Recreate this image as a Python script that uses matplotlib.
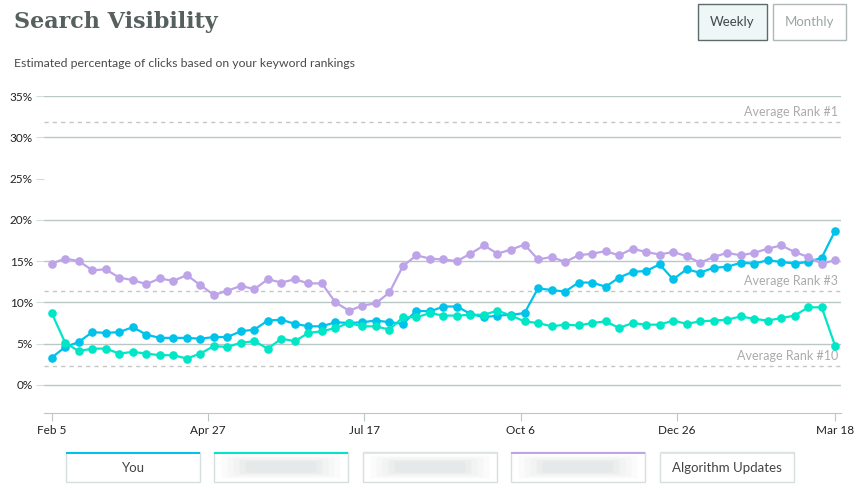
import datetime as dt
import matplotlib
matplotlib.use("Agg")
import matplotlib.pyplot as plt
import matplotlib.dates as mdates
import matplotlib.patches as patches

# ── Data ──────────────────────────────────────────────────────────────────────
start = dt.date(2017, 2, 5)
dates = [start + dt.timedelta(weeks=i) for i in range(59)]

you = [3.3, 4.6, 5.2, 6.4, 6.3, 6.4, 7.0, 6.1, 5.7, 5.7,
       5.7, 5.6, 5.8, 5.8, 6.5, 6.7, 7.8, 7.9, 7.4, 7.1,
       7.1, 7.6, 7.5, 7.6, 7.8, 7.6, 7.4, 9.0, 8.9, 9.5,
       9.5, 8.6, 8.2, 8.4, 8.5, 8.7, 11.7, 11.5, 11.3, 12.4,
       12.4, 11.9, 13.0, 13.7, 13.8, 14.6, 12.8, 14.0, 13.6, 14.2,
       14.3, 14.8, 14.7, 15.1, 14.9, 14.7, 14.9, 15.4, 18.7]

competitor_a = [8.7, 5.1, 4.1, 4.4, 4.4, 3.8, 4.0, 3.8, 3.6, 3.6,
                3.2, 3.8, 4.7, 4.6, 5.1, 5.3, 4.4, 5.6, 5.3, 6.3,
                6.5, 6.9, 7.5, 7.1, 7.1, 6.7, 8.2, 8.2, 8.7, 8.4,
                8.4, 8.5, 8.5, 9.0, 8.4, 7.7, 7.5, 7.1, 7.3, 7.2,
                7.5, 7.7, 6.9, 7.5, 7.3, 7.3, 7.8, 7.4, 7.7, 7.8,
                7.9, 8.3, 8.0, 7.8, 8.1, 8.4, 9.4, 9.4, 4.7]

competitor_c = [14.7, 15.3, 15.0, 13.9, 14.0, 13.0, 12.7, 12.2, 12.9, 12.6,
                13.3, 12.1, 10.9, 11.4, 12.0, 11.6, 12.8, 12.4, 12.8, 12.3,
                12.3, 10.0, 9.0, 9.6, 9.9, 11.2, 14.4, 15.7, 15.3, 15.2,
                15.0, 15.9, 16.9, 15.9, 16.4, 17.0, 15.2, 15.5, 14.9, 15.7,
                15.9, 16.2, 15.7, 16.5, 16.1, 15.8, 16.1, 15.6, 14.8, 15.5,
                16.0, 15.7, 16.0, 16.5, 16.9, 16.1, 15.5, 14.7, 15.1]

rank_values = [31.9, 11.4, 2.35]
rank_labels = ["Average Rank #1", "Average Rank #3", "Average Rank #10"]

y_ticks = [0, 5, 10, 15, 20, 25, 30, 35]
grid_values = [0, 5, 10, 15, 20, 30, 35]
x_tick_dates = [dt.date(2017, 2, 5), dt.date(2017, 4, 27), dt.date(2017, 7, 17),
                dt.date(2017, 10, 6), dt.date(2017, 12, 26), dt.date(2018, 3, 18)]

legend_labels = ["You", "", "", "", "Algorithm Updates"]

# ── Style ─────────────────────────────────────────────────────────────────────
C_YOU = "#00c2ea"
C_A = "#00e6c6"
C_C = "#bda3e8"
C_GRID = "#b9c7c7"

plt.rcParams["font.family"] = ["Lato", "DejaVu Sans"]

fig = plt.figure(figsize=(8.56, 5.01), dpi=100)
ax = fig.add_axes([44 / 856, 1 - 413 / 501, (841 - 44) / 856, (413 - 96) / 501])

for g in grid_values:
    ax.axhline(g, color=C_GRID, lw=1.0, zorder=1)

for v, lab in zip(rank_values, rank_labels):
    ax.axhline(v, color="#c6c6c6", lw=1.0, ls=(0, (3, 3)), zorder=1)
    ax.text(0.996, v + 0.45, lab, transform=ax.get_yaxis_transform(),
            ha="right", va="bottom", fontsize=9, color="#ababab")

mk = dict(marker="o", markersize=6.2, lw=1.6, markeredgewidth=0)
ax.plot(dates, you, color=C_YOU, zorder=3, **mk)
ax.plot(dates, competitor_a, color=C_A, zorder=4, **mk)
ax.plot(dates, competitor_c, color=C_C, zorder=5, **mk)

ax.set_ylim(-3.4, 35)
ax.set_xlim(start - dt.timedelta(days=4.7), dates[-1] + dt.timedelta(days=3.1))

ax.set_yticks(y_ticks)
ax.set_yticklabels([f"{t}%" for t in y_ticks])
ax.set_xticks(x_tick_dates)
ax.xaxis.set_major_formatter(mdates.DateFormatter("%b %-d"))

for s in ["top", "right", "left"]:
    ax.spines[s].set_visible(False)
ax.spines["bottom"].set_color(C_GRID)
ax.tick_params(axis="y", length=6, color="#d3dcdc", labelsize=8.5,
               labelcolor="#222222", pad=2)
ax.tick_params(axis="x", length=6, color=C_GRID, labelsize=8.5,
               labelcolor="#222222", pad=3)

# ── Header ────────────────────────────────────────────────────────────────────
fig.text(14 / 856, 1 - 28 / 501, "Search Visibility", fontsize=16,
         fontweight="bold", family=["DejaVu Serif"], color="#56605f",
         va="baseline")
fig.text(14 / 856, 1 - 67 / 501,
         "Estimated percentage of clicks based on your keyword rankings",
         fontsize=8.85, color="#4a4a4a", va="baseline")


def box(x0, y0, x1, y1, face, edge, lw=1.0):
    r = patches.Rectangle((x0 / 856, 1 - y1 / 501), (x1 - x0) / 856, (y1 - y0) / 501,
                          transform=fig.transFigure, facecolor=face,
                          edgecolor=edge, lw=lw)
    fig.add_artist(r)


box(698, 4, 767, 40, "#eef6f6", "#5e6b6b")
fig.text(732.5 / 856, 1 - 22 / 501, "Weekly", ha="center", va="center",
         fontsize=9.5, color="#3e4a4a")
box(773, 4, 846, 40, "white", "#aeb8b8")
fig.text(809.5 / 856, 1 - 22 / 501, "Monthly", ha="center", va="center",
         fontsize=9.5, color="#9ba6a6")

# ── Legend boxes ──────────────────────────────────────────────────────────────
legend_x = [66, 214, 363, 511, 660]
legend_top = [C_YOU, C_A, "#dde4e4", C_C, "#dde4e4"]
for x0, lab, top in zip(legend_x, legend_labels, legend_top):
    box(x0, 452, x0 + 134, 482, "white", "#d6dfdf")
    fig.add_artist(patches.Rectangle((x0 / 856, 1 - 454 / 501), 134 / 856, 2.5 / 501,
                                     transform=fig.transFigure, facecolor=top,
                                     edgecolor="none"))
    if lab:
        fig.text((x0 + 67) / 856, 1 - 467.5 / 501, lab, ha="center",
                 va="center", fontsize=9.5, color="#444444")
    else:
        # blurred label placeholder
        for k, a in enumerate([0.03, 0.03, 0.04, 0.05, 0.06]):
            pad = 10 + k * 6
            fig.add_artist(patches.FancyBboxPatch(
                ((x0 + pad) / 856, 1 - (477 - 1.5 * k) / 501),
                (134 - 2 * pad) / 856, (20 - 3 * k) / 501,
                boxstyle="round,pad=0.003", transform=fig.transFigure,
                facecolor="#8f9999", edgecolor="none", alpha=a))

fig.savefig("out.png", dpi=100)
